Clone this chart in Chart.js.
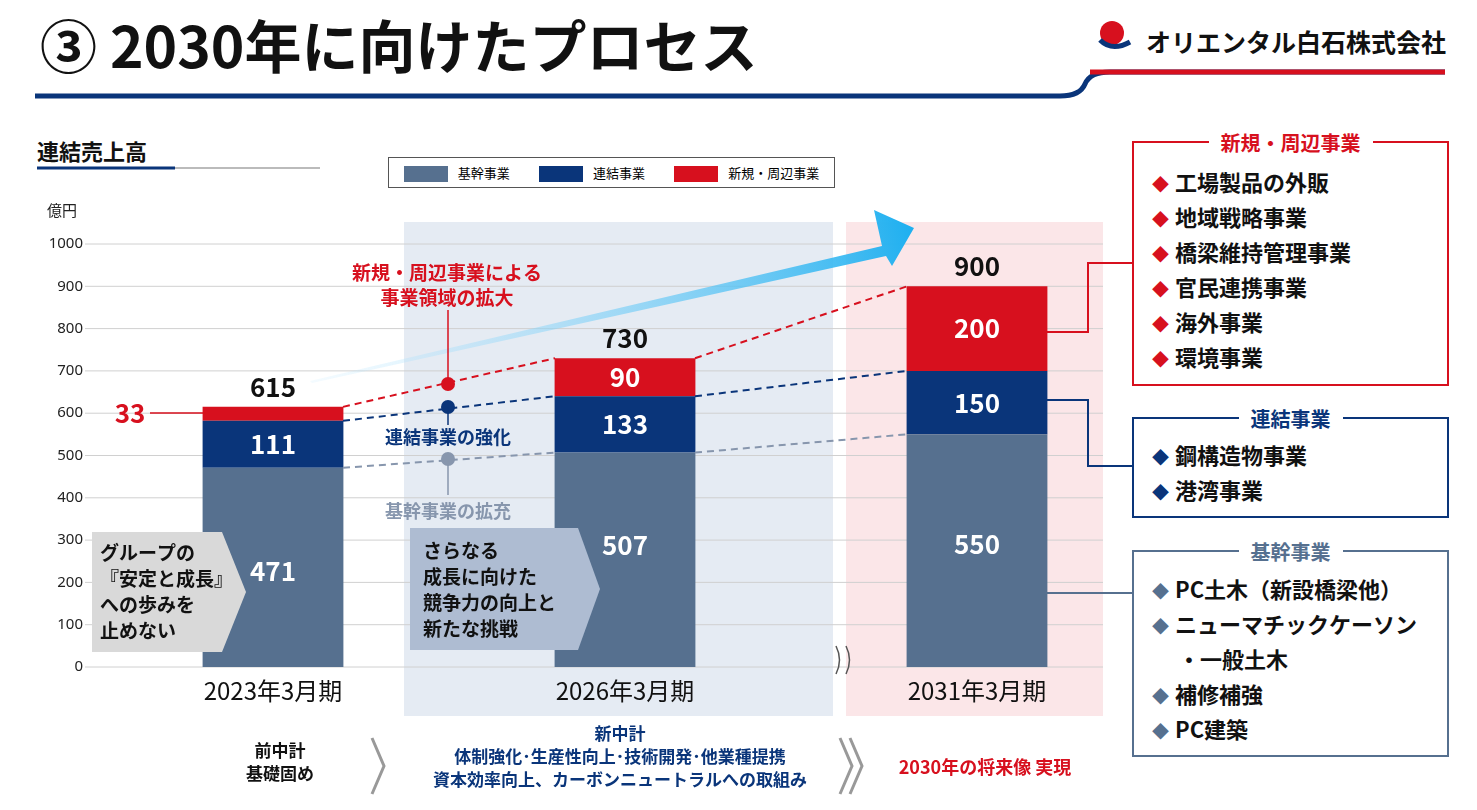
<!DOCTYPE html>
<html><head><meta charset="utf-8">
<script src="https://cdn.jsdelivr.net/npm/chart.js@4"></script>
<style>
body{margin:0;width:1477px;height:810px;background:#fff;font-family:"Noto Sans CJK JP","Noto Sans",sans-serif;position:relative;overflow:hidden}
.abs{position:absolute}
.box{position:absolute;border:2px solid;background:#fff}
.box .t{position:absolute;top:-15px;left:0;right:0;text-align:center;font-weight:bold;font-size:20px}
.box .t span{background:#fff;padding:0 12px}
.box ul{list-style:none;margin:0;padding:0;font-weight:bold;font-size:22px;color:#111}
.box li{height:35px;line-height:35px}
.box li b{font-size:17px;margin-right:6px}
.bt{position:absolute;text-align:center;font-weight:bold;font-size:17px;line-height:23px}
</style></head><body>
<svg class="abs" style="left:0;top:0" width="1477" height="810">
<path d="M35 96 L1060 96 Q1080 96 1085 84 Q1090 72 1110 72 L1445 72" fill="none" stroke="#0a357a" stroke-width="5"/>
<path d="M1090 72 L1445 72" stroke="#d7101e" stroke-width="5"/>
<circle cx="1112" cy="33" r="12" fill="#d7101e"/>
<path d="M1100 40 Q1112 52 1130 42" stroke="#0a357a" stroke-width="5" fill="none"/>
<line x1="37" y1="168" x2="175" y2="168" stroke="#0a357a" stroke-width="3"/>
<line x1="175" y1="168" x2="320" y2="168" stroke="#bbb" stroke-width="2"/>
<path d="M372 738 L384 766 L372 794" stroke="#999" stroke-width="3" fill="none"/>
<path d="M840 738 L852 766 L840 794 M850 738 L862 766 L850 794" stroke="#999" stroke-width="3" fill="none"/>
</svg>
<div class="abs" style="left:40px;top:2px;font-size:57px;font-weight:bold;color:#111">③ 2030年に向けたプロセス</div>
<div class="abs" style="left:1146px;top:23px;font-size:25px;font-weight:bold;color:#111">オリエンタル白石株式会社</div>
<div class="abs" style="left:37px;top:134px;font-size:22px;font-weight:bold;color:#111">連結売上高</div>
<div class="abs" style="left:388px;top:157px;width:445px;height:29px;border:1px solid #555;font-size:13px;display:flex;align-items:center;justify-content:space-around;background:#fff;z-index:2">
<span><i style="display:inline-block;width:44px;height:16px;background:#56708f;vertical-align:middle;margin-right:10px"></i>基幹事業</span>
<span><i style="display:inline-block;width:44px;height:16px;background:#0a357a;vertical-align:middle;margin-right:10px"></i>連結事業</span>
<span><i style="display:inline-block;width:44px;height:16px;background:#d7101e;vertical-align:middle;margin-right:10px"></i>新規・周辺事業</span>
</div>
<div class="abs" style="left:0;top:0;width:1477px;height:810px"><canvas id="c"></canvas></div>
<div class="box" style="left:1132px;top:141px;width:313px;height:241px;border-color:#d7101e"><div class="t" style="color:#d7101e"><span>新規・周辺事業</span></div>
<ul style="padding:21px 0 0 18px"><li><b style="color:#d7101e">◆</b>工場製品の外販</li><li><b style="color:#d7101e">◆</b>地域戦略事業</li><li><b style="color:#d7101e">◆</b>橋梁維持管理事業</li><li><b style="color:#d7101e">◆</b>官民連携事業</li><li><b style="color:#d7101e">◆</b>海外事業</li><li><b style="color:#d7101e">◆</b>環境事業</li></ul></div>
<div class="box" style="left:1132px;top:417px;width:313px;height:97px;border-color:#0a357a"><div class="t" style="color:#0a357a"><span>連結事業</span></div>
<ul style="padding:18px 0 0 18px"><li><b style="color:#0a357a">◆</b>鋼構造物事業</li><li><b style="color:#0a357a">◆</b>港湾事業</li></ul></div>
<div class="box" style="left:1132px;top:550px;width:313px;height:203px;border-color:#56708f"><div class="t" style="color:#56708f"><span>基幹事業</span></div>
<ul style="padding:19px 0 0 18px"><li><b style="color:#56708f">◆</b>PC土木（新設橋梁他）</li><li><b style="color:#56708f">◆</b>ニューマチックケーソン</li><li style="padding-left:26px">・一般土木</li><li><b style="color:#56708f">◆</b>補修補強</li><li><b style="color:#56708f">◆</b>PC建築</li></ul></div>
<div class="bt" style="left:200px;top:738px;width:160px;color:#111">前中計<br>基礎固め</div>
<div class="bt" style="left:380px;top:721px;width:480px;color:#0a357a">新中計<br>体制強化･生産性向上･技術開発･他業種提携<br>資本効率向上、カーボンニュートラルへの取組み</div>
<div class="bt" style="left:865px;top:755px;width:240px;color:#d7101e;font-size:18px">2030年の将来像 実現</div>
<script>
const categories=["2023年3月期","2026年3月期","2031年3月期"];
const baseVals=[471,507,550];
const consVals=[111,133,150];
const newVals=[33,90,200];
const totals=[615,730,900];
const yTicks=[0,100,200,300,400,500,600,700,800,900,1000];
const C_BASE="#56708f",C_CONS="#0a357a",C_NEW="#d7101e";
const baseLabelFrac=[0.48,0.57,0.53];
const deco={id:"deco",
beforeDatasetsDraw(ch){const c=ch.ctx,y=ch.scales.y,x=ch.scales.x;
 c.save();
 c.fillStyle="#e5ebf3";c.fillRect(404,222,429,494);
 c.fillStyle="#fbe6e8";c.fillRect(846,222,257,494);
 c.strokeStyle="#d0d0d0";c.lineWidth=1;c.font="15px 'Noto Sans','Noto Sans CJK JP'";c.fillStyle="#222";c.textAlign="right";c.textBaseline="middle";
 yTicks.forEach(v=>{const p=y.getPixelForValue(v);c.beginPath();c.moveTo(85,p);c.lineTo(1103,p);c.stroke();c.fillText(String(v),83,p);});
 c.textAlign="left";c.fillText("億円",47,212);
 c.font="24px 'Noto Sans CJK JP'";c.textAlign="center";c.fillStyle="#111";
 categories.forEach((s,i)=>c.fillText(s,x.getPixelForValue(i),691));
 const g=c.createLinearGradient(310,380,910,225);g.addColorStop(0,"rgba(200,235,255,0.2)");g.addColorStop(1,"#1fb0f0");
 c.fillStyle=g;c.beginPath();c.moveTo(310,381);c.lineTo(882,246);c.lineTo(874,210);c.lineTo(914,228);c.lineTo(892,266);c.lineTo(886,256);c.lineTo(312,383);c.closePath();c.fill();
 c.restore();},
afterDatasetsDraw(ch){const c=ch.ctx,y=ch.scales.y,x=ch.scales.x;const hw=70;
 c.save();
 const dash=(vals,col)=>{c.strokeStyle=col;c.setLineDash([7,5]);c.lineWidth=2;
  for(let i=0;i<2;i++){c.beginPath();c.moveTo(x.getPixelForValue(i)+hw,y.getPixelForValue(vals[i]));
  c.lineTo(x.getPixelForValue(i+1)-hw,y.getPixelForValue(vals[i+1]));c.stroke();}
  c.setLineDash([]);};
 dash(totals,C_NEW);
 dash(baseVals.map((b,i)=>b+consVals[i]),C_CONS);
 dash(baseVals,"#8796ad");
 c.textAlign="center";c.textBaseline="middle";c.font="bold 26px 'Noto Sans CJK JP'";
 totals.forEach((t,i)=>{c.fillStyle="#111";c.fillText(String(t),x.getPixelForValue(i),y.getPixelForValue(t)-20);});
 c.fillStyle="#fff";
 baseVals.forEach((b,i)=>{const px=x.getPixelForValue(i);
  c.fillText(b,px,y.getPixelForValue(b*baseLabelFrac[i]));
  c.fillText(consVals[i],px,y.getPixelForValue(b+consVals[i]/2));
  if(i>0)c.fillText(newVals[i],px,y.getPixelForValue(b+consVals[i]+newVals[i]/2));});
 c.fillStyle=C_NEW;c.fillText("33",130,413);c.strokeStyle=C_NEW;c.lineWidth=1.5;c.beginPath();c.moveTo(150,413);c.lineTo(205,413);c.stroke();
 c.font="bold 19px 'Noto Sans CJK JP'";c.fillText("新規・周辺事業による",447,273);c.fillText("事業領域の拡大",447,298);
 c.beginPath();c.moveTo(448,310);c.lineTo(448,384);c.stroke();
 c.beginPath();c.arc(448,384,7,0,7);c.fill();
 c.fillStyle=C_CONS;c.strokeStyle=C_CONS;c.beginPath();c.arc(448,407,7,0,7);c.fill();
 c.beginPath();c.moveTo(448,407);c.lineTo(448,425);c.stroke();
 c.font="bold 18px 'Noto Sans CJK JP'";c.fillText("連結事業の強化",448,437);
 c.fillStyle="#8796ad";c.strokeStyle="#8796ad";c.beginPath();c.arc(448,459,7,0,7);c.fill();
 c.beginPath();c.moveTo(448,459);c.lineTo(448,495);c.stroke();c.fillText("基幹事業の拡充",448,511);
 c.fillStyle="#d9d9d9";c.beginPath();c.moveTo(92,532);c.lineTo(222,532);c.lineTo(246,592);c.lineTo(222,652);c.lineTo(92,652);c.closePath();c.fill();
 c.fillStyle="#111";c.textAlign="left";c.font="bold 19px 'Noto Sans CJK JP'";
 ["グループの","『安定と成長』","への歩みを","止めない"].forEach((s,i)=>c.fillText(s,100,553+i*26));
 c.fillStyle="#aebcd2";c.beginPath();c.moveTo(410,528);c.lineTo(578,528);c.lineTo(600,589);c.lineTo(578,650);c.lineTo(410,650);c.closePath();c.fill();
 c.fillStyle="#111";["さらなる","成長に向けた","競争力の向上と","新たな挑戦"].forEach((s,i)=>c.fillText(s,423,551+i*26));
 c.strokeStyle="#555";c.lineWidth=1.5;[836,846].forEach(a=>{c.beginPath();c.moveTo(a,646);c.quadraticCurveTo(a+7,660,a,674);c.stroke();});
 c.lineWidth=2;c.strokeStyle=C_NEW;c.beginPath();c.moveTo(1045,332);c.lineTo(1088,332);c.lineTo(1088,263);c.lineTo(1132,263);c.stroke();
 c.strokeStyle=C_CONS;c.beginPath();c.moveTo(1045,400);c.lineTo(1088,400);c.lineTo(1088,466);c.lineTo(1132,466);c.stroke();
 c.strokeStyle=C_BASE;c.beginPath();c.moveTo(1045,593);c.lineTo(1132,593);c.stroke();
 c.restore();}};
new Chart(document.getElementById("c"),{type:"bar",
data:{labels:categories,datasets:[
 {label:"基幹事業",data:baseVals,backgroundColor:C_BASE},
 {label:"連結事業",data:consVals,backgroundColor:C_CONS},
 {label:"新規・周辺事業",data:newVals,backgroundColor:C_NEW}]},
options:{responsive:true,maintainAspectRatio:false,animation:false,
 layout:{padding:{left:97,right:324,top:244,bottom:143}},
 datasets:{bar:{categoryPercentage:1,barPercentage:0.4}},
 plugins:{legend:{display:false},tooltip:{enabled:false}},
 scales:{x:{display:false,stacked:true},y:{display:false,stacked:true,min:0,max:1000}}},
plugins:[deco]});
</script></body></html>
